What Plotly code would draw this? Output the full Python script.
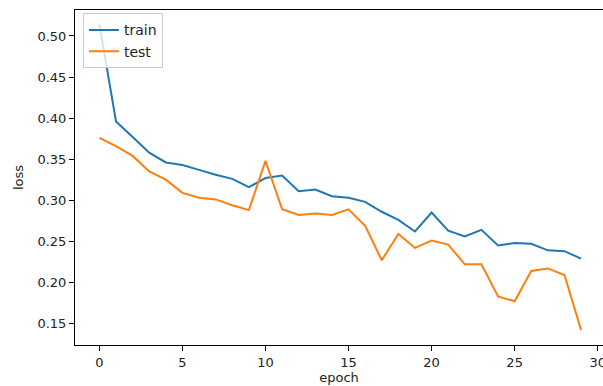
import plotly.graph_objects as go

epochs = list(range(30))
train_loss = [0.514, 0.396, 0.377, 0.358, 0.346, 0.343, 0.337, 0.331, 0.326, 0.316,
              0.327, 0.330, 0.311, 0.313, 0.305, 0.303, 0.298, 0.286, 0.276, 0.262,
              0.285, 0.263, 0.256, 0.264, 0.245, 0.248, 0.247, 0.239, 0.238, 0.229]
test_loss = [0.376, 0.366, 0.354, 0.335, 0.325, 0.309, 0.303, 0.301, 0.294, 0.288,
             0.348, 0.289, 0.282, 0.284, 0.282, 0.289, 0.269, 0.227, 0.259, 0.242,
             0.251, 0.246, 0.222, 0.222, 0.183, 0.177, 0.214, 0.217, 0.209, 0.142]
x_ticks = [0, 5, 10, 15, 20, 25, 30]
y_ticks = [0.15, 0.20, 0.25, 0.30, 0.35, 0.40, 0.45, 0.50]

fig = go.Figure()
fig.add_trace(go.Scatter(x=epochs, y=train_loss, mode="lines", name="train",
                         line=dict(color="#1f77b4", width=2)))
fig.add_trace(go.Scatter(x=epochs, y=test_loss, mode="lines", name="test",
                         line=dict(color="#ff7f0e", width=2)))

axis_common = dict(showline=True, linecolor="black", linewidth=1, mirror=True,
                   ticks="outside", ticklen=5, tickwidth=1, tickcolor="black",
                   showgrid=False, zeroline=False, automargin=False,
                   ticklabeloverflow="allow",
                   tickfont=dict(family="DejaVu Sans", size=13, color="#222"))

fig.update_xaxes(range=[-1.47, 30.32], tickvals=x_ticks,
                 title=dict(text="epoch", font=dict(family="DejaVu Sans", size=13, color="#222"), standoff=4),
                 **axis_common)
fig.update_yaxes(range=[0.1238, 0.5316], tickvals=y_ticks, tickformat=".2f",
                 title=dict(text="loss", font=dict(family="DejaVu Sans", size=13, color="#222"), standoff=10),
                 **axis_common)

fig.update_layout(
    width=603, height=386,
    margin=dict(l=75, r=0, t=10, b=41, autoexpand=False),
    plot_bgcolor="white", paper_bgcolor="white",
    font=dict(family="DejaVu Sans", size=13, color="#222"),
    legend=dict(x=0.015, y=0.99, xanchor="left", yanchor="top",
                bgcolor="rgba(255,255,255,0.8)", bordercolor="#cccccc", borderwidth=1,
                font=dict(family="DejaVu Sans", size=14, color="#222"),
                itemwidth=30, tracegroupgap=0),
    showlegend=True,
)

fig.write_html("out.html", config={"displayModeBar": False},
               post_script="document.body.style.margin='0';document.body.style.padding='0';")
